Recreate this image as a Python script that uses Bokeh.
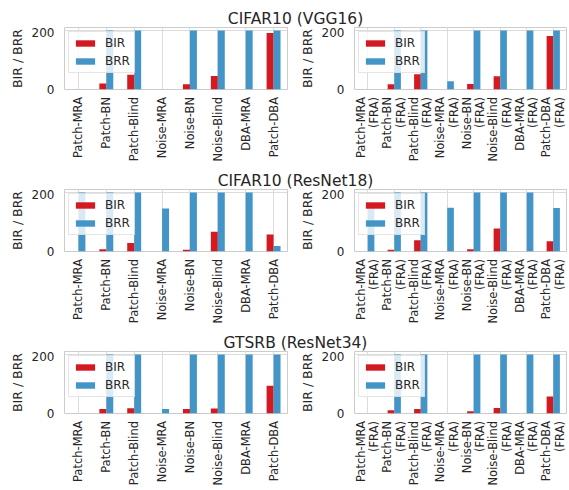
import math

from bokeh.embed import file_html
from bokeh.layouts import column, row
from bokeh.models import (ColumnDataSource, FactorRange, FixedTicker, Label,
                          Legend, LegendItem, Range1d)
from bokeh.core.properties import value
from bokeh.plotting import figure
from bokeh.resources import INLINE
from bokeh.transform import dodge

# ---- data -------------------------------------------------------------
attacks = ["Patch-MRA", "Patch-BN", "Patch-Blind", "Noise-MRA",
           "Noise-BN", "Noise-Blind", "DBA-MRA", "Patch-DBA"]
fra_suffix = "(FRA)"
attacks_fra = [a + "\n" + fra_suffix for a in attacks]

row_titles = ["CIFAR10 (VGG16)", "CIFAR10 (ResNet18)", "GTSRB (ResNet34)"]

vgg16_bir = [0, 20, 50, 0, 18, 46, 0, 191]
vgg16_brr = [0, 200, 200, 0, 200, 200, 200, 200]
vgg16_fra_bir = [0, 18, 52, 0, 19, 45, 0, 181]
vgg16_fra_brr = [0, 200, 200, 28, 200, 200, 200, 200]

resnet18_bir = [0, 8, 29, 0, 6, 67, 0, 58]
resnet18_brr = [200, 200, 200, 146, 200, 200, 200, 19]
resnet18_fra_bir = [0, 6, 38, 0, 8, 78, 0, 35]
resnet18_fra_brr = [147, 200, 200, 148, 200, 200, 200, 147]

resnet34_bir = [0, 15, 18, 0, 15, 17, 0, 94]
resnet34_brr = [0, 200, 200, 15, 200, 200, 200, 200]
resnet34_fra_bir = [0, 11, 15, 0, 8, 19, 0, 58]
resnet34_fra_brr = [0, 200, 200, 0, 200, 200, 200, 200]

# ---- style ------------------------------------------------------------
RED = "#d41a21"
BLUE = "#4394c7"
TEXT = "#262626"
GRID = "#dcdcdc"
EDGE = "#cccccc"
FONT = "DejaVu Sans"
FRAME_W = 223
FRAME_H = 62
HEADER_H = 27
PANEL_BOTTOM = 7          # room under each frame for the "0" tick label


def header(text):
    p = figure(title=None, width=569, height=HEADER_H,
               x_range=(0, 1), y_range=(0, 1),
               min_border=0, x_axis_location=None, y_axis_location=None,
               output_backend="svg", toolbar_location=None)
    p.outline_line_color = None
    p.grid.visible = False
    p.add_layout(Label(x=295, y=9, x_units="screen",
                       y_units="screen", text=text, text_align="center",
                       text_baseline="middle", text_font=FONT,
                       text_font_size="15.5px", text_color=TEXT))
    return p


def bar_panel(factors, bir, brr, border_left, border_right):
    src = ColumnDataSource(dict(cat=factors, bir=bir, brr=brr))
    p = figure(title=None, x_range=FactorRange(*factors), y_range=(0, 210),
               width=border_left + FRAME_W + border_right,
               height=FRAME_H + PANEL_BOTTOM,
               min_border_left=border_left, min_border_right=border_right,
               min_border_top=0, min_border_bottom=PANEL_BOTTOM,
               output_backend="svg", toolbar_location=None)
    r_bir = p.vbar(x=dodge("cat", -0.125, range=p.x_range), top="bir",
                   width=0.25, source=src, fill_color=RED, line_color=None)
    r_brr = p.vbar(x=dodge("cat", 0.125, range=p.x_range), top="brr",
                   width=0.25, source=src, fill_color=BLUE, line_color=None)

    legend = Legend(items=[LegendItem(label="BIR", renderers=[r_bir]),
                           LegendItem(label="BRR", renderers=[r_brr])],
                    location="top_left", margin=4, padding=4, spacing=4,
                    glyph_width=24, glyph_height=8, label_height=12,
                    label_standoff=8, label_text_font=FONT,
                    label_text_font_size="12px", label_text_color=TEXT,
                    background_fill_alpha=0.8, border_line_color=EDGE)
    p.add_layout(legend)

    p.outline_line_color = EDGE
    p.background_fill_color = "white"

    # category names are drawn in a strip under the panel
    p.xaxis.visible = False
    p.yaxis.ticker = FixedTicker(ticks=[0, 200])
    p.yaxis.axis_label = "BIR / BRR"
    p.yaxis.axis_line_color = None
    p.yaxis.major_tick_line_color = None
    p.yaxis.minor_tick_line_color = None
    p.yaxis.major_label_text_font = FONT
    p.yaxis.major_label_text_font_size = "12px"
    p.yaxis.major_label_text_color = TEXT
    p.yaxis.major_label_standoff = 4
    p.yaxis.axis_label_standoff = 4
    p.yaxis.axis_label_text_font = FONT
    p.yaxis.axis_label_text_font_size = "12.5px"
    p.yaxis.axis_label_text_font_style = "normal"
    p.yaxis.axis_label_text_color = TEXT

    p.xgrid.grid_line_color = GRID
    p.ygrid.grid_line_color = GRID
    return p


def category_labels(x_range, factors, border_left, border_right, height):
    """Upright category names under a panel; two-line names sit either
    side of their tick."""
    lines = [f.split("\n") for f in factors]
    s = figure(title=None, x_range=x_range, y_range=Range1d(-height, 0),
               width=border_left + FRAME_W + border_right, height=height,
               min_border_left=border_left, min_border_right=border_right,
               min_border_top=0, min_border_bottom=0,
               x_axis_location=None, y_axis_location=None,
               output_backend="svg", toolbar_location=None)
    s.outline_line_color = None
    s.grid.visible = False
    nlines = max(len(ln) for ln in lines)
    offsets = [0] if nlines == 1 else [-7, 6.5]
    for i, dx in enumerate(offsets):
        src = ColumnDataSource(dict(cat=factors, label=[ln[i] for ln in lines]))
        s.text(x="cat", y=-0.5, text="label", source=src, x_offset=dx,
               angle=math.pi / 2, text_align="right", text_baseline="middle",
               text_font=value(FONT), text_font_size="11.5px",
               text_color=TEXT)
    return s


# height of the label strip under each row of panels
strip_heights = [66, 66, 69]

rows_data = [
    (vgg16_bir, vgg16_brr, vgg16_fra_bir, vgg16_fra_brr),
    (resnet18_bir, resnet18_brr, resnet18_fra_bir, resnet18_fra_brr),
    (resnet34_bir, resnet34_brr, resnet34_fra_bir, resnet34_fra_brr),
]

blocks = []
for title, (bir, brr, bir_f, brr_f), strip_h in zip(row_titles, rows_data,
                                                    strip_heights):
    left = bar_panel(attacks, bir, brr, 64, 9)
    left_labels = category_labels(left.x_range, attacks, 64, 9, strip_h)
    right = bar_panel(attacks_fra, bir_f, brr_f, 47, 3)
    right_labels = category_labels(right.x_range, attacks_fra, 47, 3, strip_h)
    blocks.append(header(title))
    blocks.append(row(column(left, left_labels), column(right, right_labels)))

page = column(*blocks)

with open("out.html", "w") as f:
    f.write(file_html(page, INLINE))
